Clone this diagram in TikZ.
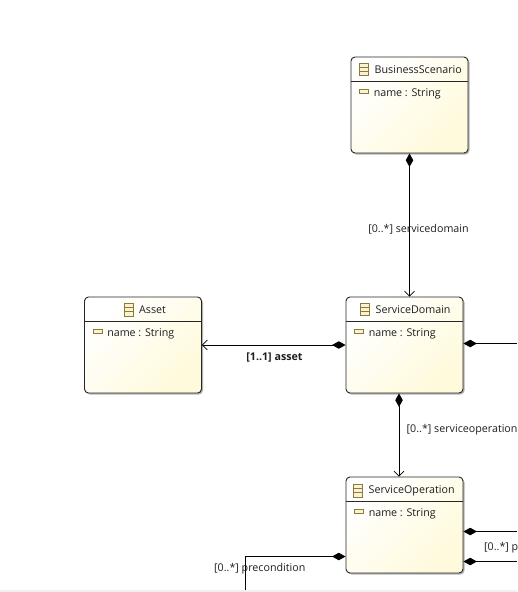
\documentclass[tikz,border=0pt]{standalone}
\usepackage{fontspec}
\setmainfont{Open Sans}
\usetikzlibrary{arrows.meta,positioning,shadows}
\definecolor{boxyellow}{HTML}{FFFADB}
\definecolor{iconbrown}{HTML}{8A7A3E}
\definecolor{iconfill}{HTML}{FBF3CF}
\definecolor{labeltext}{HTML}{1E1E1E}
\tikzset{
    classbox/.style={draw=black!85, line width=0.9pt, rounded corners=4pt, minimum width=117pt, minimum height=96pt,
        inner sep=0pt, top color=white, bottom color=boxyellow, shading angle=45,
        drop shadow={shadow xshift=1.5pt, shadow yshift=-1.5pt, opacity=0.3, fill=black}},
    classicon/.style={draw=iconbrown, fill=iconfill, line width=0.9pt, minimum width=9pt, minimum height=12.5pt, inner sep=0pt},
    attricon/.style={draw=iconbrown, fill=iconfill, line width=0.9pt, minimum width=9pt, minimum height=4.5pt, inner sep=0pt},
    comp/.style={line width=0.9pt, {Diamond[length=13.5pt,width=7.5pt]}-{Straight Barb[length=5pt,width=10pt,line width=0.6pt]}},
    compfree/.style={line width=0.9pt, {Diamond[length=13.5pt,width=7.5pt]}-},
    linklabel/.style={text=labeltext, inner sep=0pt}
}
\begin{document}
\begin{tikzpicture}[x=1pt, y=-1pt, every node/.style={font=\fontsize{10.7}{14}\selectfont, text=labeltext}]
    \useasboundingbox (0,0) rectangle (517,592);
    % Window edge at the bottom
    \fill[black!6] (0,590) rectangle (517,592);

    % Classes (name/centre x/centre y/title/title x)
    \foreach \n/\cx/\cy/\ttl/\tx in {bs/409.5/105/BusinessScenario/374.5, asset/143/345/Asset/139, sd/404.5/345/ServiceDomain/375.5, so/404.5/525/ServiceOperation/368.5} {
        \node[classbox] (\n) at (\cx,\cy) {};
        \node[anchor=base west, inner sep=0pt] (\n-title) at (\tx,\cy-32) {\ttl};
        \node[classicon, left=5.5pt of \n-title.west, yshift=-0.5pt] (\n-icon) {};
        \draw[iconbrown, line width=0.9pt] ([yshift=2pt]\n-icon.west) -- ([yshift=2pt]\n-icon.east);
        \draw[iconbrown, line width=0.9pt] ([yshift=-2pt]\n-icon.west) -- ([yshift=-2pt]\n-icon.east);
        \draw[black!85, line width=0.9pt] ([yshift=-25pt]\n.north west) -- ([yshift=-25pt]\n.north east);
        \node[anchor=base west, inner sep=0pt] (\n-attr) at ([xshift=23pt,yshift=-39.5pt]\n.north west) {name : String};
        \node[attricon] (\n-attricon) at ([xshift=13.5pt,yshift=-35pt]\n.north west) {};
    }

    % Free ends at the window border
    \coordinate (sdout) at (517,343.5);
    \coordinate (soouta) at (517,531.5);
    \coordinate (sooutb) at (517,561.5);
    \coordinate (prefoot) at (245.5,590);

    % Links
    \draw[comp] (bs.south) -- (bs.south |- sd.north);
    \draw[comp] (sd.west) -- (asset.east);
    \draw[comp] ([xshift=-5.5pt]sd.south) -- ([xshift=-5.5pt]so.north);
    \draw[compfree] (sd.east |- sdout) -- (sdout);
    \draw[compfree] (so.east |- soouta) -- (soouta);
    \draw[compfree] (so.east |- sooutb) -- (sooutb);
    \draw[compfree] (so.west |- 0,556.5) -- (prefoot |- 0,556.5) -- (prefoot);

    % Link labels
    \node[linklabel] (lbldomain) at (418.5,229) {[0..*] servicedomain};
    \node[linklabel, font=\fontsize{10.7}{14}\selectfont\bfseries] (lblasset) at (274.5,357.5) {[1..1] asset};
    \node[linklabel, anchor=west] (lbloper) at (406.5,429.5) {[0..*] serviceoperation};
    \node[linklabel, anchor=west] (lblp) at (484,547.5) {[0..*] p};
    \node[linklabel, anchor=west] (lblpre) at (214,568.5) {[0..*] precondition};
\end{tikzpicture}
\end{document}
